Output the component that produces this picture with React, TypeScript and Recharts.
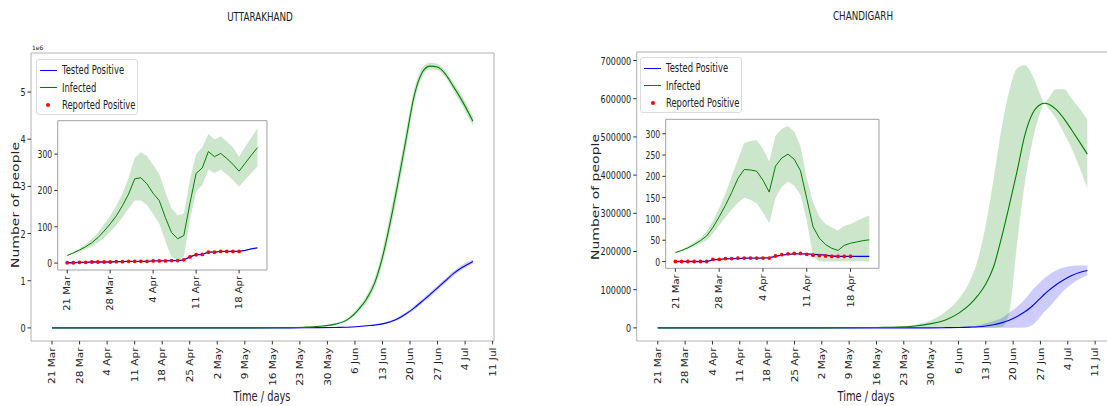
import { ComposedChart, Line, Area, XAxis, YAxis, ReferenceArea } from "recharts";

// shared tick labels
const mainTickDays = [0, 7, 14, 21, 28, 35, 42, 49, 56, 63, 70, 77, 84, 91, 98, 105, 112];
const mainTickLabels = ["21 Mar", "28 Mar", "4 Apr", "11 Apr", "18 Apr", "25 Apr", "2 May", "9 May", "16 May", "23 May", "30 May", "6 Jun", "13 Jun", "20 Jun", "27 Jun", "4 Jul", "11 Jul"];
const insetTickDays = [0, 7, 14, 21, 28];
const insetTickLabels = ["21 Mar", "28 Mar", "4 Apr", "11 Apr", "18 Apr"];
const insetDays = [0, 1, 2, 3, 4, 5, 6, 7, 8, 9, 10, 11, 12, 13, 14, 15, 16, 17, 18, 19, 20, 21, 22, 23, 24, 25, 26, 27, 28, 29, 30, 31];

// Uttarakhand, main (millions)
const utkDays = [0, 7, 14, 21, 28, 35, 42, 49, 56, 60, 64, 68, 72, 75, 78, 80, 82, 84, 86, 88, 90, 92, 94, 96, 98, 100, 102, 104, 107];
const utkInfected = [0, 0, 0, 0, 0, 0, 0, 0, 0.002, 0.005, 0.015, 0.035, 0.08, 0.17, 0.4, 0.62, 0.95, 1.5, 2.25, 3.1, 4.0, 4.9, 5.4, 5.55, 5.53, 5.38, 5.12, 4.85, 4.38];
const utkInfHi = [0, 0, 0, 0, 0, 0, 0, 0, 0.003, 0.007, 0.02, 0.045, 0.1, 0.2, 0.46, 0.7, 1.06, 1.65, 2.45, 3.3, 4.2, 5.05, 5.5, 5.62, 5.6, 5.45, 5.2, 4.95, 4.48];
const utkInfLo = [0, 0, 0, 0, 0, 0, 0, 0, 0.001, 0.003, 0.01, 0.026, 0.062, 0.14, 0.34, 0.54, 0.84, 1.35, 2.05, 2.9, 3.8, 4.75, 5.3, 5.48, 5.46, 5.31, 5.04, 4.75, 4.28];
const utkTested = [0, 0, 0, 0, 0, 0, 0, 0, 0, 0.001, 0.002, 0.005, 0.01, 0.015, 0.03, 0.045, 0.06, 0.085, 0.13, 0.2, 0.3, 0.42, 0.56, 0.7, 0.85, 1.0, 1.15, 1.27, 1.41];
const utkTestHi = [0, 0, 0, 0, 0, 0, 0, 0, 0, 0.001, 0.003, 0.007, 0.013, 0.02, 0.038, 0.055, 0.074, 0.1, 0.15, 0.23, 0.33, 0.46, 0.6, 0.75, 0.9, 1.05, 1.2, 1.32, 1.45];
const utkTestLo = [0, 0, 0, 0, 0, 0, 0, 0, 0, 0, 0.001, 0.003, 0.007, 0.01, 0.022, 0.035, 0.047, 0.07, 0.11, 0.17, 0.27, 0.38, 0.52, 0.65, 0.8, 0.95, 1.1, 1.22, 1.37];

// Uttarakhand, inset (first month)
const utkInsetInf = [21, 28, 36, 45, 56, 70, 88, 108, 130, 158, 190, 232, 235, 218, 192, 172, 125, 84, 67, 76, 165, 247, 262, 307, 293, 302, 288, 272, 253, 275, 297, 318];
const utkInsetHi = [22, 30, 40, 52, 66, 84, 106, 130, 158, 192, 235, 290, 305, 295, 270, 245, 195, 150, 132, 136, 230, 300, 318, 356, 340, 349, 335, 318, 293, 320, 346, 372];
const utkInsetLo = [20, 26, 32, 38, 46, 56, 70, 86, 104, 126, 150, 172, 172, 160, 135, 109, 60, 17, 7, 17, 120, 197, 215, 257, 247, 258, 244, 228, 210, 230, 248, 266];
const utkInsetTested = [1, 1, 2, 2, 3, 3, 3, 3, 4, 4, 5, 5, 5, 5, 6, 6, 6, 7, 7, 9, 17, 23, 24, 30, 30, 32, 32, 32, 32, 35, 39, 42];
const utkReported = [1, 1, 2, 2, 3, 3, 3, 3, 4, 4, 5, 5, 5, 5, 6, 6, 6, 7, 7, 9, 17, 23, 24, 30, 30, 32, 32, 32, 32];

// Chandigarh, main
const chdDays = [0, 14, 28, 42, 56, 62, 66, 70, 74, 77, 80, 82, 84, 86, 88, 90, 92, 94, 96, 98, 99, 100, 102, 104, 106, 108, 110];
const chdInfected = [0, 0, 0, 0, 1000, 2000, 5000, 11000, 22000, 38000, 62000, 85000, 115000, 160000, 235000, 320000, 410000, 505000, 562000, 585000, 588000, 586000, 572000, 548000, 518000, 487000, 455000];
const chdInfHi = [0, 0, 0, 0, 2000, 4000, 9000, 20000, 45000, 75000, 125000, 180000, 270000, 390000, 520000, 620000, 680000, 688000, 660000, 610000, 589000, 600000, 625000, 625000, 600000, 575000, 545000];
const chdInfLo = [0, 0, 0, 0, 0, 0, 0, 0, 0, 0, 0, 0, 0, 0, 2000, 40000, 220000, 380000, 490000, 565000, 587000, 575000, 548000, 510000, 470000, 420000, 365000];
const chdTested = [0, 0, 0, 0, 0, 0, 0, 0, 500, 1000, 2000, 3000, 5000, 8000, 13000, 20000, 30000, 42000, 58000, 78000, 88000, 97000, 113000, 126000, 137000, 145000, 150000];
const chdTestHi = [0, 0, 0, 0, 0, 0, 0, 0, 1000, 2000, 4000, 6000, 12000, 18000, 25000, 40000, 55000, 75000, 100000, 120000, 130000, 138000, 150000, 158000, 162000, 163000, 163000];
const chdTestLo = [0, 0, 0, 0, 0, 0, 0, 0, 0, 0, 0, 0, 0, 0, 0, 0, 0, 1000, 8000, 30000, 42000, 52000, 75000, 98000, 115000, 128000, 138000];

// Chandigarh, inset
const chdInsetInf = [21, 26, 32, 40, 49, 60, 80, 105, 132, 162, 195, 216, 215, 212, 191, 163, 224, 243, 252, 240, 213, 148, 82, 55, 40, 31, 26, 38, 43, 46, 49, 51];
const chdInsetHi = [22, 28, 36, 45, 56, 70, 95, 125, 160, 200, 240, 278, 283, 285, 265, 235, 295, 312, 318, 305, 270, 195, 140, 105, 88, 80, 73, 84, 88, 95, 102, 108];
const chdInsetLo = [20, 24, 29, 35, 42, 50, 66, 85, 104, 122, 138, 150, 145, 136, 115, 90, 150, 175, 187, 178, 156, 97, 12, 0, 0, 0, 0, 0, 0, 0, 0, 0];
const chdInsetTested = [0, 0, 0, 0, 0, 0, 4, 5, 6, 7, 7, 8, 8, 8, 8, 9, 12, 15, 17, 18, 18, 18, 17, 16, 15, 13, 12, 12, 12, 12, 12, 12];
const chdReported = [0, 0, 0, 0, 0, 0, 5, 5, 7, 7, 8, 8, 8, 8, 8, 8, 13, 16, 18, 19, 19, 17, 15, 14, 13, 12, 12, 12, 12];

const FONT = "'DejaVu Sans', sans-serif";
const SQ = 0.73; // the source image is squeezed horizontally
const INK = "#222";

const mainRows = (days: number[], inf: number[], lo: number[], hi: number[], tp: number[], tlo: number[], thi: number[]) =>
  days.map((day, i) => ({ day, inf: inf[i], infBand: [lo[i], hi[i]], tp: tp[i], tpBand: [tlo[i], thi[i]] }));

const insetRows = (inf: number[], lo: number[], hi: number[], tp: number[], rep: number[]) =>
  insetDays.map((day, i) => ({ day, inf: inf[i], infBand: [lo[i], hi[i]], tp: tp[i], rep: i < rep.length ? rep[i] : null }));

const dateTick = (days: number[], labels: string[], size: number) => (p: any) => (
  <text
    transform={`translate(${p.x},${p.y}) scale(0.88,1) rotate(-90)`}
    textAnchor="end"
    dominantBaseline="central"
    fontSize={size}
    fontFamily={FONT}
    fill={INK}
  >
    {labels[days.indexOf(p.payload.value)]}
  </text>
);

const numTick = (size: number) => (p: any) => (
  <text
    transform={`translate(${p.x},${p.y}) scale(${SQ},1)`}
    textAnchor="end"
    dominantBaseline="central"
    fontSize={size}
    fontFamily={FONT}
    fill={INK}
  >
    {String(p.payload.value)}
  </text>
);

const Squeezed = ({ x, y, size, children, rotate = false }: any) => (
  <div
    style={{
      position: "absolute",
      left: x,
      top: y,
      fontFamily: FONT,
      fontSize: size,
      color: INK,
      whiteSpace: "nowrap",
      lineHeight: 1,
      transform: `translate(-50%,-50%) scaleX(${SQ})${rotate ? " rotate(-90deg)" : ""}`,
    }}
  >
    {children}
  </div>
);

const MainChart = ({ data, left, width, margin, xDomain, yDomain, yTicks, yWidth }: any) => (
  <div style={{ position: "absolute", left, top: 0 }}>
    <ComposedChart width={width} height={406} data={data} margin={margin}>
      <XAxis type="number" dataKey="day" domain={xDomain} ticks={mainTickDays} interval={0} allowDataOverflow
        axisLine={false} tickLine={{ stroke: "#333" }} tickSize={3.5} tickMargin={3} height={65}
        tick={dateTick(mainTickDays, mainTickLabels, 10.5)} />
      <YAxis type="number" domain={yDomain} ticks={yTicks} interval={0} allowDataOverflow width={yWidth}
        axisLine={false} tickLine={{ stroke: "#333" }} tickSize={3.5} tickMargin={2} tick={numTick(11)} />
      <ReferenceArea x1={xDomain[0]} x2={xDomain[1]} y1={yDomain[0]} y2={yDomain[1]} fill="none" stroke="#b0b0b0" strokeWidth={1} />
      <Area type="monotone" dataKey="tpBand" stroke="none" fill="blue" fillOpacity={0.2} isAnimationActive={false} />
      <Line type="monotone" dataKey="tp" stroke="blue" strokeWidth={1.1} dot={false} isAnimationActive={false} />
      <Area type="monotone" dataKey="infBand" stroke="none" fill="green" fillOpacity={0.2} isAnimationActive={false} />
      <Line type="monotone" dataKey="inf" stroke="green" strokeWidth={1.1} dot={false} isAnimationActive={false} />
    </ComposedChart>
  </div>
);

const InsetChart = ({ data, left, top, width, height, margin, yDomain, yTicks }: any) => (
  <div style={{ position: "absolute", left, top }}>
    <ComposedChart width={width} height={height} data={data} margin={margin}>
      <XAxis type="number" dataKey="day" domain={[-1.55, 32.55]} ticks={insetTickDays} interval={0} allowDataOverflow
        axisLine={false} tickLine={{ stroke: "#333" }} tickSize={3.5} tickMargin={2.5} height={45}
        tick={dateTick(insetTickDays, insetTickLabels, 10)} />
      <YAxis type="number" domain={yDomain} ticks={yTicks} interval={0} allowDataOverflow width={30}
        axisLine={false} tickLine={{ stroke: "#333" }} tickSize={3.5} tickMargin={2} tick={numTick(10.5)} />
      <ReferenceArea x1={-1.55} x2={32.55} y1={yDomain[0]} y2={yDomain[1]} fill="none" stroke="#a0a0a0" strokeWidth={1} />
      <Area type="linear" dataKey="infBand" stroke="none" fill="green" fillOpacity={0.2} isAnimationActive={false} />
      <Line type="linear" dataKey="inf" stroke="green" strokeWidth={1} dot={false} isAnimationActive={false} />
      <Line type="linear" dataKey="rep" stroke="none" dot={{ r: 1.9, fill: "red", stroke: "none" }} isAnimationActive={false} />
      <Line type="linear" dataKey="tp" stroke="blue" strokeWidth={1.3} dot={false} isAnimationActive={false} />
    </ComposedChart>
  </div>
);

const LegendBox = ({ left, top }: any) => {
  const rows = [
    { label: "Tested Positive", color: "blue", kind: "line" },
    { label: "Infected", color: "green", kind: "line" },
    { label: "Reported Positive", color: "red", kind: "dot" },
  ];
  return (
    <div style={{ position: "absolute", left, top, width: 102, height: 56, border: "1px solid #dcdcdc", borderRadius: 3, background: "rgba(255,255,255,0.85)", boxSizing: "border-box" }}>
      {rows.map((r, i) => (
        <div key={r.label} style={{ position: "absolute", left: 0, top: 10 + i * 17.5, width: 102, height: 0 }}>
          {r.kind === "line" ? (
            <div style={{ position: "absolute", left: 3, top: -0.5, width: 17, height: 1, background: r.color }} />
          ) : (
            <div style={{ position: "absolute", left: 9.8, top: -2, width: 4, height: 4, borderRadius: "50%", background: r.color }} />
          )}
          <div style={{ position: "absolute", left: 25, top: -7, fontFamily: FONT, fontSize: 11.5, lineHeight: "14px", color: INK, whiteSpace: "nowrap", transform: `scaleX(${SQ})`, transformOrigin: "0 50%" }}>
            {r.label}
          </div>
        </div>
      ))}
    </div>
  );
};

export default function App() {
  const utkMain = mainRows(utkDays, utkInfected, utkInfLo, utkInfHi, utkTested, utkTestLo, utkTestHi);
  const chdMain = mainRows(chdDays, chdInfected, chdInfLo, chdInfHi, chdTested, chdTestLo, chdTestHi);
  const utkInset = insetRows(utkInsetInf, utkInsetLo, utkInsetHi, utkInsetTested, utkReported);
  const chdInset = insetRows(chdInsetInf, chdInsetLo, chdInsetHi, chdInsetTested, chdReported);

  return (
    <div style={{ position: "fixed", left: 0, top: 0, width: 1107, height: 406, overflow: "hidden", background: "#fff" }}>
      <MainChart data={utkMain} left={0} width={520} margin={{ top: 53, right: 26, bottom: 0, left: 6 }}
        xDomain={[-5.35, 112.35]} yDomain={[-0.2775, 5.8275]} yTicks={[0, 1, 2, 3, 4, 5]} yWidth={25} />
      <MainChart data={chdMain} left={570} width={560} margin={{ top: 52, right: 21.2, bottom: 0, left: 6.7 }}
        xDomain={[-5.4, 115.5]} yDomain={[-34400, 722400]} yTicks={[0, 100000, 200000, 300000, 400000, 500000, 600000, 700000]} yWidth={60} />

      <InsetChart data={utkInset} left={20} top={110} width={260} height={205} margin={{ top: 10.7, right: 13, bottom: 0, left: 7.7 }}
        yDomain={[-19, 392]} yTicks={[0, 100, 200, 300]} />
      <InsetChart data={chdInset} left={620} top={110} width={280} height={203.3} margin={{ top: 9.3, right: 21, bottom: 0, left: 15.7 }}
        yDomain={[-15.9, 333.9]} yTicks={[0, 50, 100, 150, 200, 250, 300]} />

      <LegendBox left={35.7} top={59} />
      <LegendBox left={640} top={57.3} />

      <Squeezed x={260} y={17} size={12}>UTTARAKHAND</Squeezed>
      <Squeezed x={863} y={16} size={12}>CHANDIGARH</Squeezed>
      <Squeezed x={262} y={397} size={13.5}>Time / days</Squeezed>
      <Squeezed x={866} y={397} size={13.5}>Time / days</Squeezed>
      <Squeezed x={15} y={205} size={14} rotate>Number of people</Squeezed>
      <Squeezed x={595} y={197} size={14} rotate>Number of people</Squeezed>
      <div style={{ position: "absolute", left: 32, top: 45, fontFamily: FONT, fontSize: 6, color: INK, lineHeight: 1 }}>1e6</div>
    </div>
  );
}
